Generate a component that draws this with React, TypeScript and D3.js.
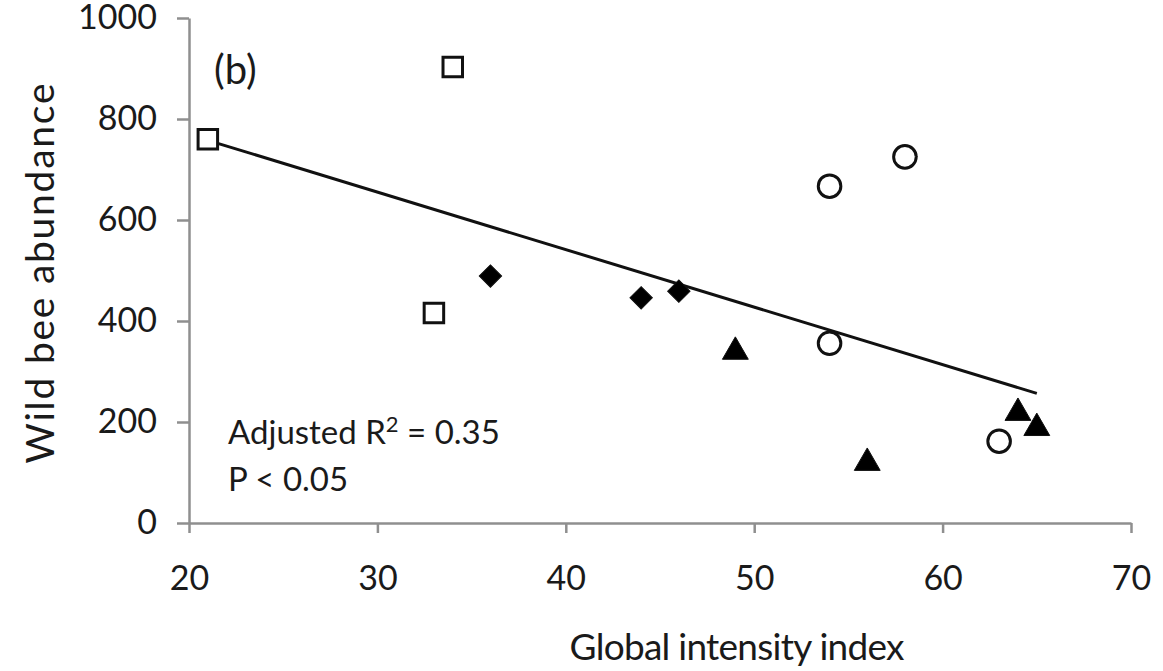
import React, { useEffect, useRef } from "react";
import * as d3 from "d3";

// values (b)
const squareX = [21, 34, 33];
const squareY = [760, 903, 416];
const diamondX = [36, 44, 46];
const diamondY = [489, 446, 459];
const triangleX = [49, 56, 64, 65];
const triangleY = [339, 119, 218, 188];
const circleX = [54, 58, 54, 63];
const circleY = [667, 725, 356, 162];

const xTicks = [20, 30, 40, 50, 60, 70];
const yTicks = [0, 200, 400, 600, 800, 1000];

const width = 1163;
const height = 671;
const margin = { top: 18, right: 32, bottom: 148, left: 189 };
const font = "Lato, 'Open Sans', sans-serif";

export default function App() {
  const ref = useRef<SVGSVGElement>(null);

  useEffect(() => {
    const svg = d3.select(ref.current);
    svg.selectAll("*").remove();

    const x = d3
      .scaleLinear()
      .domain([20, 70])
      .range([margin.left, width - margin.right]);
    const y = d3
      .scaleLinear()
      .domain([0, 1000])
      .range([height - margin.bottom, margin.top]);

    // axes
    const xAxis = svg
      .append("g")
      .attr("transform", `translate(0, ${y(0)})`)
      .call(
        d3.axisBottom(x).tickValues(xTicks).tickFormat(d3.format("d"))
          .tickSize(10).tickSizeOuter(0).tickPadding(33)
      );
    const yAxis = svg
      .append("g")
      .attr("transform", `translate(${x(20)}, 0)`)
      .call(
        d3.axisLeft(y).tickValues(yTicks).tickFormat(d3.format("d"))
          .tickSize(12).tickSizeOuter(0).tickPadding(20)
      );

    [xAxis, yAxis].forEach((g) => {
      g.select(".domain").attr("stroke", "#8f8f8f").attr("stroke-width", 2.5);
      g.selectAll(".tick line").attr("stroke", "#8f8f8f").attr("stroke-width", 2.5);
      g.selectAll(".tick text")
        .attr("fill", "#1a1a1a")
        .style("font-family", font)
        .style("font-size", "34px");
    });

    // regression line (least squares over all points)
    const allX = [...squareX, ...diamondX, ...triangleX, ...circleX];
    const allY = [...squareY, ...diamondY, ...triangleY, ...circleY];
    const mx = d3.mean(allX) as number;
    const my = d3.mean(allY) as number;
    const sxy = d3.sum(allX, (v, i) => (v - mx) * (allY[i] - my));
    const sxx = d3.sum(allX, (v) => (v - mx) * (v - mx));
    const slope = sxy / sxx;
    const [x0, x1] = d3.extent(allX) as [number, number];
    const fit = (v: number) => my + slope * (v - mx);

    svg
      .append("path")
      .attr(
        "d",
        d3.line<number>()
          .x((v) => x(v))
          .y((v) => y(fit(v)))([x0, x1])
      )
      .attr("stroke", "#111")
      .attr("stroke-width", 3)
      .attr("fill", "none");

    // markers
    const drawSeries = (
      xs: number[],
      ys: number[],
      type: d3.SymbolType,
      size: number,
      filled: boolean,
      rotate = 0
    ) => {
      svg
        .append("g")
        .selectAll("path")
        .data(xs)
        .enter()
        .append("path")
        .attr("d", d3.symbol().type(type).size(size)())
        .attr(
          "transform",
          (d, i) => `translate(${x(d)}, ${y(ys[i])}) rotate(${rotate})`
        )
        .attr("fill", filled ? "#000" : "#fff")
        .attr("stroke", "#111")
        .attr("stroke-width", filled ? 1 : 3);
    };

    drawSeries(squareX, squareY, d3.symbolSquare, 380, false);
    drawSeries(diamondX, diamondY, d3.symbolSquare, 250, true, 45);
    drawSeries(triangleX, triangleY, d3.symbolTriangle, 290, true);
    drawSeries(circleX, circleY, d3.symbolCircle, 400, false);

    // labels
    svg
      .append("text")
      .attr("x", 214)
      .attr("y", 84)
      .text("(b)")
      .style("font-family", font)
      .style("font-size", "40px")
      .attr("fill", "#1a1a1a");

    const stats = svg
      .append("text")
      .attr("x", 228)
      .attr("y", 444)
      .style("font-family", font)
      .style("font-size", "33px")
      .attr("fill", "#1a1a1a");
    stats.append("tspan").text("Adjusted R");
    stats
      .append("tspan")
      .text("2")
      .attr("dy", -12)
      .style("font-size", "22px");
    stats.append("tspan").text(" = 0.35").attr("dy", 12);

    svg
      .append("text")
      .attr("x", 228)
      .attr("y", 491)
      .text("P < 0.05")
      .style("font-family", font)
      .style("font-size", "33px")
      .attr("fill", "#1a1a1a");

    svg
      .append("text")
      .attr("x", 737)
      .attr("y", 660)
      .attr("text-anchor", "middle")
      .attr("textLength", 335)
      .attr("lengthAdjust", "spacing")
      .text("Global intensity index")
      .style("font-family", font)
      .style("font-size", "37px")
      .attr("fill", "#1a1a1a");

    svg
      .append("text")
      .attr("transform", `translate(54, ${y(500) + 3}) rotate(-90)`)
      .attr("text-anchor", "middle")
      .attr("textLength", 380)
      .attr("lengthAdjust", "spacing")
      .text("Wild bee abundance")
      .style("font-family", font)
      .style("font-size", "39px")
      .attr("fill", "#1a1a1a");
  }, []);

  return (
    <svg
      ref={ref}
      width={width}
      height={height}
      style={{ position: "absolute", left: 0, top: 0, background: "#fff" }}
    />
  );
}
